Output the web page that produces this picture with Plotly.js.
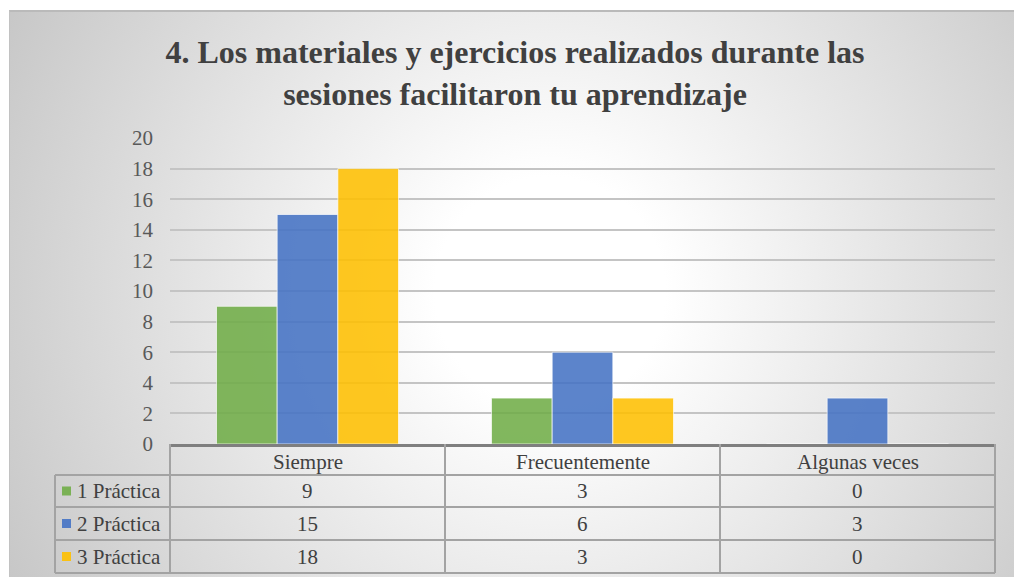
<!DOCTYPE html>
<html>
<head>
<meta charset="utf-8">
<script src="https://cdn.plot.ly/plotly-3.0.1.min.js"></script>
<style>
  body { margin:0; background:#ffffff; }
  #bg { position:absolute; left:9px; top:10px; width:1005px; height:567px; box-sizing:border-box;
        border-top:2px solid #bababa; border-left:1px solid #c2c2c2;
        background: radial-gradient(ellipse 640px 640px at 540px 280px, #ffffff 0%, #ffffff 18%, #c4c4c4 100%); }
  #chart { position:absolute; left:0; top:0; width:1014px; height:577px; }
  #chart text { font-family: 'Liberation Serif' !important; }
</style>
</head>
<body>
<div id="bg"></div>
<div id="chart"></div>
<script>
// ---- data ----
const categories = ['Siempre', 'Frecuentemente', 'Algunas veces'];
const seriesNames = ['1 Práctica', '2 Práctica', '3 Práctica'];
const practica1 = [9, 3, 0];
const practica2 = [15, 6, 3];
const practica3 = [18, 3, 0];
const seriesColors = ['#70AD47', '#4472C4', '#FFC000'];
const titleText = '<b>4. Los materiales y ejercicios realizados durante las<br>sesiones facilitaron tu aprendizaje</b>';

// ---- layout helpers (pixel geometry of the reference) ----
const W = 1014, H = 577;
const L = 170, R = 995, T = 138, B = 444;
const px2x = px => (px - L) / (R - L);
const px2y = py => (B - py) / (B - T);
const SERIF = 'Liberation Serif';

const seriesValues = [practica1, practica2, practica3];
const traces = seriesValues.map((vals, i) => ({
  type: 'bar',
  x: categories,
  y: vals,
  name: seriesNames[i],
  marker: { color: seriesColors[i], opacity: 0.87, line: { color: 'rgba(255,255,255,0.7)', width: 1 } },
  hoverinfo: 'x+y+name'
}));

const rowEdges = [444, 475, 507, 540, 573];   // pixel rows of the data table
const labelLeft = 55;
const nCat = categories.length;
const lineStyle = { color: '#a3a3a3', width: 2 };
const shapes = [];
for (let i = 0; i <= nCat; i++) {
  shapes.push({ type: 'line', xref: 'paper', yref: 'paper', x0: i / nCat, x1: i / nCat,
    y0: px2y(rowEdges[0]), y1: px2y(rowEdges[rowEdges.length - 1]), line: lineStyle });
}
shapes.push({ type: 'line', xref: 'paper', yref: 'paper', x0: px2x(labelLeft), x1: px2x(labelLeft),
  y0: px2y(rowEdges[1]), y1: px2y(rowEdges[rowEdges.length - 1]), line: lineStyle });
for (let r = 1; r < rowEdges.length; r++) {
  shapes.push({ type: 'line', xref: 'paper', yref: 'paper', x0: px2x(labelLeft), x1: 1,
    y0: px2y(rowEdges[r]), y1: px2y(rowEdges[r]), line: lineStyle });
}
seriesNames.forEach((n, s) => {
  const cy = (rowEdges[s + 1] + rowEdges[s + 2]) / 2;
  shapes.push({ type: 'rect', xref: 'paper', yref: 'paper',
    x0: px2x(62), x1: px2x(71), y0: px2y(cy - 4.5), y1: px2y(cy + 4.5),
    fillcolor: seriesColors[s], opacity: 0.9, line: { width: 0 } });
});

const annotations = [];
categories.forEach((c, i) => {
  annotations.push({ xref: 'paper', yref: 'paper', x: (i + 0.5) / nCat,
    y: px2y((rowEdges[0] + rowEdges[1]) / 2 + 2), text: c, showarrow: false,
    font: { family: SERIF, size: 21, color: '#404040' },
    xanchor: 'center', yanchor: 'middle' });
});
seriesValues.forEach((vals, s) => {
  const cy = (rowEdges[s + 1] + rowEdges[s + 2]) / 2;
  annotations.push({ xref: 'paper', yref: 'paper', x: px2x(75), y: px2y(cy), text: seriesNames[s],
    showarrow: false, font: { family: SERIF, size: 21, color: '#404040' },
    xanchor: 'left', yanchor: 'middle' });
  vals.forEach((v, i) => {
    annotations.push({ xref: 'paper', yref: 'paper', x: (i + 0.5) / nCat, y: px2y(cy),
      text: String(v), showarrow: false, font: { family: SERIF, size: 21, color: '#404040' },
      xanchor: 'center', yanchor: 'middle' });
  });
});

const layout = {
  width: W, height: H,
  margin: { l: L, r: W - R, t: T, b: H - B, pad: 0 },
  paper_bgcolor: 'rgba(0,0,0,0)',
  plot_bgcolor: 'rgba(0,0,0,0)',
  font: { family: SERIF, color: '#404040' },
  showlegend: false,
  barmode: 'group',
  bargap: 0.338,
  bargroupgap: 0,
  title: {
    text: titleText,
    font: { family: SERIF, size: 32, color: '#404040' },
    x: 515 / W, xanchor: 'center', xref: 'container',
    y: 1 - 63 / H, yanchor: 'top', yref: 'container'
  },
  xaxis: {
    type: 'category', showticklabels: false, ticks: '', showgrid: false,
    showline: true, linecolor: '#7f7f7f', linewidth: 3, zeroline: false, fixedrange: true
  },
  yaxis: {
    range: [0, 20], dtick: 2, tick0: 0, showline: false, zeroline: false,
    gridcolor: '#c4c4c4', gridwidth: 1.5, ticks: '', ticklabelstandoff: 16,
    tickfont: { family: SERIF, size: 21, color: '#595959' },
    fixedrange: true
  },
  shapes: shapes,
  annotations: annotations
};

Plotly.newPlot('chart', traces, layout, { displayModeBar: false });
</script>
</body>
</html>
